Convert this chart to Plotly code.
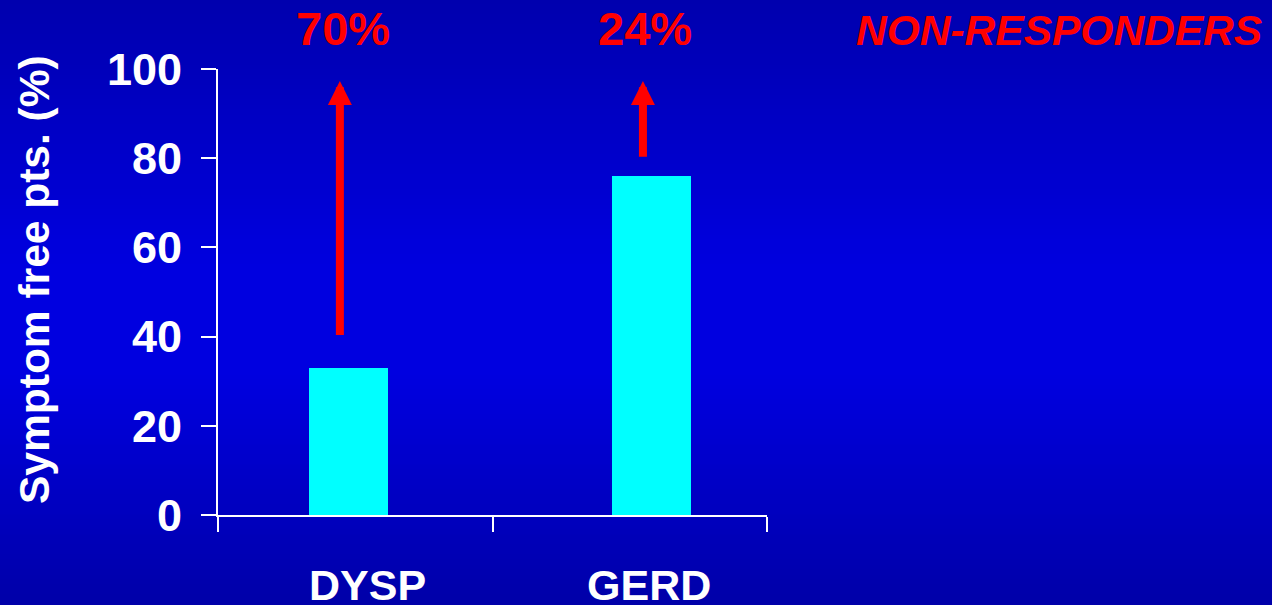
import plotly.graph_objects as go

# Data
categories = ["DYSP", "GERD"]
symptom_free = [33, 76]            # % symptom-free patients
non_responders = ["70%", "24%"]    # labels above the arrows
arrow_tail = [40, 80]              # arrow start values
arrow_tip = [97.3, 97.3]           # arrow end values
y_ticks = [0, 20, 40, 60, 80, 100]

# Horizontal placement on a 0..2 numeric axis (one unit per group)
bar_x = [0.475, 1.579]
arrow_x = [0.444, 1.548]
label_x = [0.546, 1.571]
pct_x = [0.454, 1.557]

W, H = 1272, 605
FONT = "Arial, Liberation Sans, sans-serif"
RED = "#FF0000"
WHITE = "#FFFFFF"

fig = go.Figure()
fig.add_trace(go.Bar(
    x=bar_x, y=symptom_free, width=0.288,
    marker=dict(color="#00FFFF", line=dict(width=0)),
    hoverinfo="skip", showlegend=False,
))

# Vertical blue gradient background made of thin strips
def lerp(a, b, t):
    return a + (b - a) * t

stops = [(0.0, 174), (0.45, 224), (0.62, 224), (1.0, 168)]  # (fraction from top, blue)
n = 121
shapes = []
for i in range(n):
    f0 = i / n
    f1 = (i + 1) / n
    fm = (f0 + f1) / 2
    for j in range(len(stops) - 1):
        if stops[j][0] <= fm <= stops[j + 1][0]:
            t = (fm - stops[j][0]) / (stops[j + 1][0] - stops[j][0])
            b = lerp(stops[j][1], stops[j + 1][1], t)
            break
    shapes.append(dict(
        type="rect", xref="paper", yref="paper", layer="below",
        x0=0, x1=1, y0=1 - f1 - 0.001, y1=1 - f0 + 0.001,
        fillcolor=f"rgb(0,0,{int(round(b))})", line=dict(width=0),
    ))

annotations = []
# Red arrows
for xa, t0, t1 in zip(arrow_x, arrow_tail, arrow_tip):
    annotations.append(dict(
        x=xa, y=t1, ax=xa, ay=t0, xref="x", yref="y", axref="x", ayref="y",
        text="", showarrow=True, arrowhead=2, arrowsize=0.6, arrowwidth=8,
        arrowcolor=RED, standoff=0,
    ))
# Percentages above the arrows
for xp, txt in zip(pct_x, non_responders):
    annotations.append(dict(
        x=xp, y=1 - 29 / H, xref="x", yref="paper", text=txt,
        showarrow=False, xanchor="center", yanchor="middle",
        font=dict(family=FONT, size=47, color=RED, weight="bold"),
    ))
annotations.append(dict(
    x=1 - 8 / W, y=1 - 30 / H, xref="paper", yref="paper", text="NON-RESPONDERS",
    showarrow=False, xanchor="right", yanchor="middle",
    font=dict(family=FONT, size=42.5, color=RED, weight="bold", style="italic"),
))
# Category labels
for xl, cat in zip(label_x, categories):
    annotations.append(dict(
        x=xl, y=1 - 585 / H, xref="x", yref="paper", text=cat,
        showarrow=False, xanchor="center", yanchor="middle",
        font=dict(family=FONT, size=43, color=WHITE, weight="bold"),
    ))
# Y axis title
annotations.append(dict(
    x=34 / W, y=1 - 280 / H, xref="paper", yref="paper",
    text="Symptom free pts. (%)", textangle=-90,
    showarrow=False, xanchor="center", yanchor="middle",
    font=dict(family=FONT, size=42.5, color=WHITE, weight="bold"),
))

fig.update_layout(
    width=W, height=H,
    margin=dict(l=0, r=0, t=0, b=0, autoexpand=False),
    paper_bgcolor="#0000C8", plot_bgcolor="rgba(0,0,0,0)",
    shapes=shapes, annotations=annotations,
    bargap=0, showlegend=False,
    xaxis=dict(
        domain=[218 / W, 767 / W], range=[0, 2], automargin=False,
        tickvals=[0, 1, 2], showticklabels=False,
        ticks="outside", ticklen=15, tickwidth=2, tickcolor=WHITE,
        showline=True, linecolor=WHITE, linewidth=2,
        showgrid=False, zeroline=False, fixedrange=True,
    ),
    yaxis=dict(
        domain=[90 / H, 536 / H], range=[0, 100], automargin=False,
        tickvals=y_ticks, ticks="outside", ticklen=15, tickwidth=2, tickcolor=WHITE,
        tickfont=dict(family=FONT, size=45, color=WHITE, weight="bold"),
        ticklabelstandoff=10,
        showline=True, linecolor=WHITE, linewidth=2,
        showgrid=False, zeroline=False, fixedrange=True,
    ),
)

fig.write_html("out.html", config={"displayModeBar": False})
